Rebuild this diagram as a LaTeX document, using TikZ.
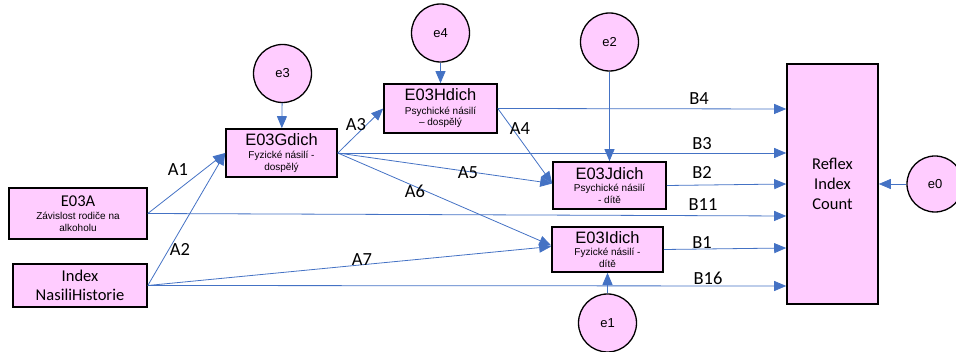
\documentclass[tikz,border=0pt]{standalone}
\usepackage{fontspec}
\setmainfont{Liberation Sans}
\newfontfamily\calfont{Carlito}
\usetikzlibrary{arrows.meta}
\definecolor{pinkfill}{HTML}{FFCCFF}
\definecolor{linkblue}{HTML}{4472C4}

\begin{document}
\begin{tikzpicture}[x=1pt,y=-1pt,
  varbox/.style={draw=black, line width=1.6pt, fill=pinkfill, inner sep=0pt,
    align=center, font=\fontsize{10}{11.5}\selectfont},
  errc/.style={circle, draw=black, line width=1.3pt, fill=pinkfill,
    minimum size=58pt, inner sep=0pt, font=\fontsize{13}{15}\selectfont},
  link/.style={draw=linkblue, line width=0.8pt, -{Triangle[length=12pt,width=10pt]}},
  coef/.style={font=\calfont\fontsize{18.5}{20}\selectfont, inner sep=0pt}
]
\useasboundingbox (0,0) rectangle (956,352);

% observed variables
\node[varbox, minimum width=138pt, minimum height=51pt] (a) at (78,213.5)
  {{\calfont\fontsize{16.5}{16.5}\selectfont E03A}\\[2pt]Závislost rodiče na\\alkoholu};
\node[varbox, minimum width=134pt, minimum height=43pt,
  font=\calfont\fontsize{16.5}{19}\selectfont] (idx) at (80,285.5)
  {Index\\NasiliHistorie};
\node[varbox, minimum width=111pt, minimum height=48pt] (g) at (281.5,153)
  {{\fontsize{16.5}{16.5}\selectfont E03Gdich}\\[2pt]Fyzické násilí -\\dospělý};
\node[varbox, minimum width=113pt, minimum height=49pt] (h) at (440.5,108.5)
  {{\fontsize{16.5}{16.5}\selectfont E03Hdich}\\[2pt]Psychické násilí\\– dospělý};
\node[varbox, minimum width=113pt, minimum height=47pt] (j) at (609.5,185.5)
  {{\fontsize{16.5}{16.5}\selectfont E03Jdich}\\[1pt]Psychické násilí\\- dítě};
\node[varbox, minimum width=111pt, minimum height=45pt] (i) at (607.5,249.5)
  {{\fontsize{16.5}{16.5}\selectfont E03Idich}\\[1pt]Fyzické násilí -\\dítě};
\node[varbox, minimum width=91pt, minimum height=240pt,
  font=\calfont\fontsize{16.5}{20}\selectfont] (r) at (832.5,184)
  {Reflex\\Index\\Count};

% error terms
\node[errc] (e3) at (282.5,73.5) {e3};
\node[errc] (e4) at (440.5,33) {e4};
\node[errc] (e2) at (609.5,42) {e2};
\node[errc] (e1) at (607.5,323) {e1};
\node[errc, minimum size=56pt] (e0) at (935,184) {e0};

% error paths
\draw[link] (e3) -- (g);
\draw[link] (e4) -- (h);
\draw[link] (e2) -- (j);
\draw[link] (e1) -- (i);
\draw[link] (e0) -- (r);

% structural paths
\draw[link] (a.east) -- (g.west);
\draw[link] (idx.east) -- (g.west);
\draw[link] (g.east) -- (h.west);
\draw[link] (h.east) -- ([yshift=2pt]j.west);
\draw[link] (g.east) -- ([yshift=2pt]j.west);
\draw[link] (g.east) -- ([yshift=4pt]i.west);
\draw[link] (idx.east) -- ([yshift=3pt]i.west);

% paths into the outcome
\draw[link] (h.east) -- ([yshift=75pt]r.west);
\draw[link] (g.east) -- ([yshift=31pt]r.west);
\draw[link] (j.east) -- ([yshift=0pt]r.west);
\draw[link] (a.east) -- ([yshift=-32pt]r.west);
\draw[link] (i.east) -- ([yshift=-64pt]r.west);
\draw[link] (idx.east) -- ([yshift=-102pt]r.west);

% coefficient labels
\node[coef] (la1) at (178,170) {A1};
\node[coef] (la2) at (180,249) {A2};
\node[coef] (la3) at (356,125) {A3};
\node[coef] (la4) at (520,129) {A4};
\node[coef] (la5) at (468,173) {A5};
\node[coef] (la6) at (415,191) {A6};
\node[coef] (la7) at (362,260) {A7};
\node[coef] (lb4) at (699,99) {B4};
\node[coef] (lb3) at (702,144) {B3};
\node[coef] (lb2) at (702,173) {B2};
\node[coef] (lb11) at (703,205) {B11};
\node[coef] (lb1) at (702,243) {B1};
\node[coef] (lb16) at (708,278) {B16};
\end{tikzpicture}
\end{document}
